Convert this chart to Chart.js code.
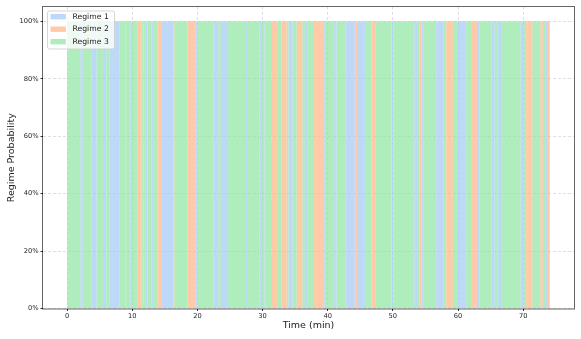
<!DOCTYPE html>
<html>
<head>
<meta charset="utf-8">
<script src="https://cdn.jsdelivr.net/npm/chart.js@4"></script>
<style>
html, body { margin: 0; padding: 0; background: #fff; }
</style>
</head>
<body>
<canvas id="myChart" width="581" height="339"></canvas>
<script>
// regime names and fill colours
const regimeNames = ['Regime 1', 'Regime 2', 'Regime 3'];
const regimeColors = ['rgba(161,201,244,0.7)', 'rgba(255,180,130,0.7)', 'rgba(141,229,161,0.7)'];

// start time (min) of each segment and the regime active from there (1, 2, 3)
const segStart = [
	0.0, 2.05, 2.4, 3.8, 4.5, 5.5, 6.0, 6.55, 8.0, 8.9,
	9.0, 9.7, 9.8, 10.75, 11.4, 11.65, 11.75, 12.0, 12.3, 12.95,
	13.3, 13.85, 14.55, 16.3, 16.45, 18.5, 19.75, 20.05, 22.45, 23.2,
	23.6, 24.7, 27.3, 27.6, 29.5, 29.9, 30.3, 30.5, 31.3, 32.2,
	32.95, 33.7, 34.0, 34.6, 35.25, 36.1, 36.5, 36.95, 37.9, 39.3,
	39.55, 41.0, 41.35, 42.7, 44.15, 44.5, 45.7, 46.7, 47.4, 49.8,
	50.1, 53.3, 53.7, 54.05, 54.4, 54.75, 56.65, 57.8, 58.2, 59.2,
	60.0, 61.25, 62.0, 62.9, 63.3, 65.1, 65.6, 66.1, 66.6, 69.6,
	70.0, 70.45, 71.4, 72.65, 73.0, 73.5, 73.8
];
const segRegime = [
	3, 1, 3, 1, 3, 1, 3, 1, 3, 1,
	3, 1, 3, 2, 3, 1, 3, 1, 3, 1,
	3, 2, 1, 2, 3, 2, 1, 3, 1, 3,
	1, 3, 1, 3, 1, 3, 1, 3, 2, 3,
	2, 3, 1, 3, 2, 3, 1, 3, 2, 1,
	3, 1, 3, 1, 2, 1, 3, 2, 3, 1,
	3, 1, 3, 2, 1, 3, 1, 3, 2, 3,
	1, 3, 2, 1, 3, 1, 3, 1, 3, 1,
	3, 2, 3, 2, 3, 1, 2
];
const endTime = 74.1;

const xTicks = [0, 10, 20, 30, 40, 50, 60, 70];
const yTicks = [0, 0.2, 0.4, 0.6, 0.8, 1.0];

const FONT = 'DejaVu Sans';
const TEXT = '#222';
const GRID = 'rgba(0,0,0,0.12)';

// one dataset per regime: probability 1 while it is active, else 0
const datasets = regimeNames.map((name, r) => {
	const pts = segStart.map((t, i) => ({ x: t, y: segRegime[i] === r + 1 ? 1 : 0 }));
	pts.push({ x: endTime, y: segRegime[segRegime.length - 1] === r + 1 ? 1 : 0 });
	return {
		label: name,
		data: pts,
		backgroundColor: regimeColors[r],
		borderWidth: 0,
		pointRadius: 0,
		stepped: 'before',
		fill: r === 0 ? 'origin' : '-1',
	};
});

// frame round the plot area (all four spines)
const framePlugin = {
	id: 'frame',
	afterDatasetsDraw(chart) {
		const a = chart.chartArea;
		const ctx = chart.ctx;
		ctx.save();
		ctx.strokeStyle = 'rgba(0,0,0,0.6)';
		ctx.lineWidth = 1;
		ctx.strokeRect(a.left - 0.5, a.top - 0.5, a.right - a.left + 1, a.bottom - a.top + 1);
		ctx.restore();
	}
};

// legend box inside the upper left corner
const legendPlugin = {
	id: 'innerLegend',
	afterDraw(chart) {
		const a = chart.chartArea;
		const ctx = chart.ctx;
		const x0 = a.left + 4.5, y0 = a.top + 4;
		const w = 67, h = 38;
		ctx.save();
		ctx.beginPath();
		ctx.roundRect(x0, y0, w, h, 2);
		ctx.fillStyle = 'rgba(255,255,255,0.8)';
		ctx.fill();
		ctx.strokeStyle = 'rgba(204,204,204,0.8)';
		ctx.lineWidth = 1;
		ctx.stroke();
		ctx.font = '7.7px "' + FONT + '"';
		ctx.textBaseline = 'middle';
		chart.data.datasets.forEach((ds, i) => {
			const cy = y0 + 5.7 + i * 12.5;
			ctx.fillStyle = ds.backgroundColor;
			ctx.fillRect(x0 + 3, cy - 2.7, 15.4, 5.4);
			ctx.fillStyle = TEXT;
			ctx.fillText(ds.label, x0 + 25, cy + 0.3);
		});
		ctx.restore();
	}
};

new Chart(document.getElementById('myChart').getContext('2d'), {
	type: 'line',
	data: { datasets: datasets },
	options: {
		responsive: false,
		animation: false,
		layout: { padding: { top: 7, right: 7, left: 0, bottom: 0 } },
		plugins: {
			legend: { display: false },
			tooltip: { enabled: false },
		},
		scales: {
			x: {
				type: 'linear',
				min: -3.7,
				max: 77.8,
				afterBuildTicks: s => { s.ticks = xTicks.map(v => ({ value: v })); },
				afterFit: s => { s.height = 30.5; },
				ticks: { font: { family: FONT, size: 6.7 }, color: TEXT, padding: 1.5, maxRotation: 0, autoSkip: false },
				grid: { color: GRID, tickColor: '#333', tickLength: 2.5, tickBorderDash: [] },
				border: { display: false, dash: [3, 2] },
				title: { display: true, text: 'Time (min)', color: TEXT, font: { family: FONT, size: 9.5 }, padding: { top: 0, bottom: 7.3 } },
			},
			y: {
				stacked: true,
				min: 0,
				max: 1.05,
				afterBuildTicks: s => { s.ticks = yTicks.map(v => ({ value: v })); },
				afterFit: s => { s.width = 43; },
				ticks: {
					font: { family: FONT, size: 6.7 }, color: TEXT, padding: 2,
					callback: v => Math.round(v * 100) + '%',
				},
				grid: { color: GRID, tickColor: '#333', tickLength: 2.5, tickBorderDash: [] },
				border: { display: false, dash: [3, 2] },
				title: { display: true, text: 'Regime Probability', color: TEXT, font: { family: FONT, size: 9.5 }, padding: { top: 6.3, bottom: 0 } },
			},
		},
	},
	plugins: [framePlugin, legendPlugin],
});
</script>
</body>
</html>
